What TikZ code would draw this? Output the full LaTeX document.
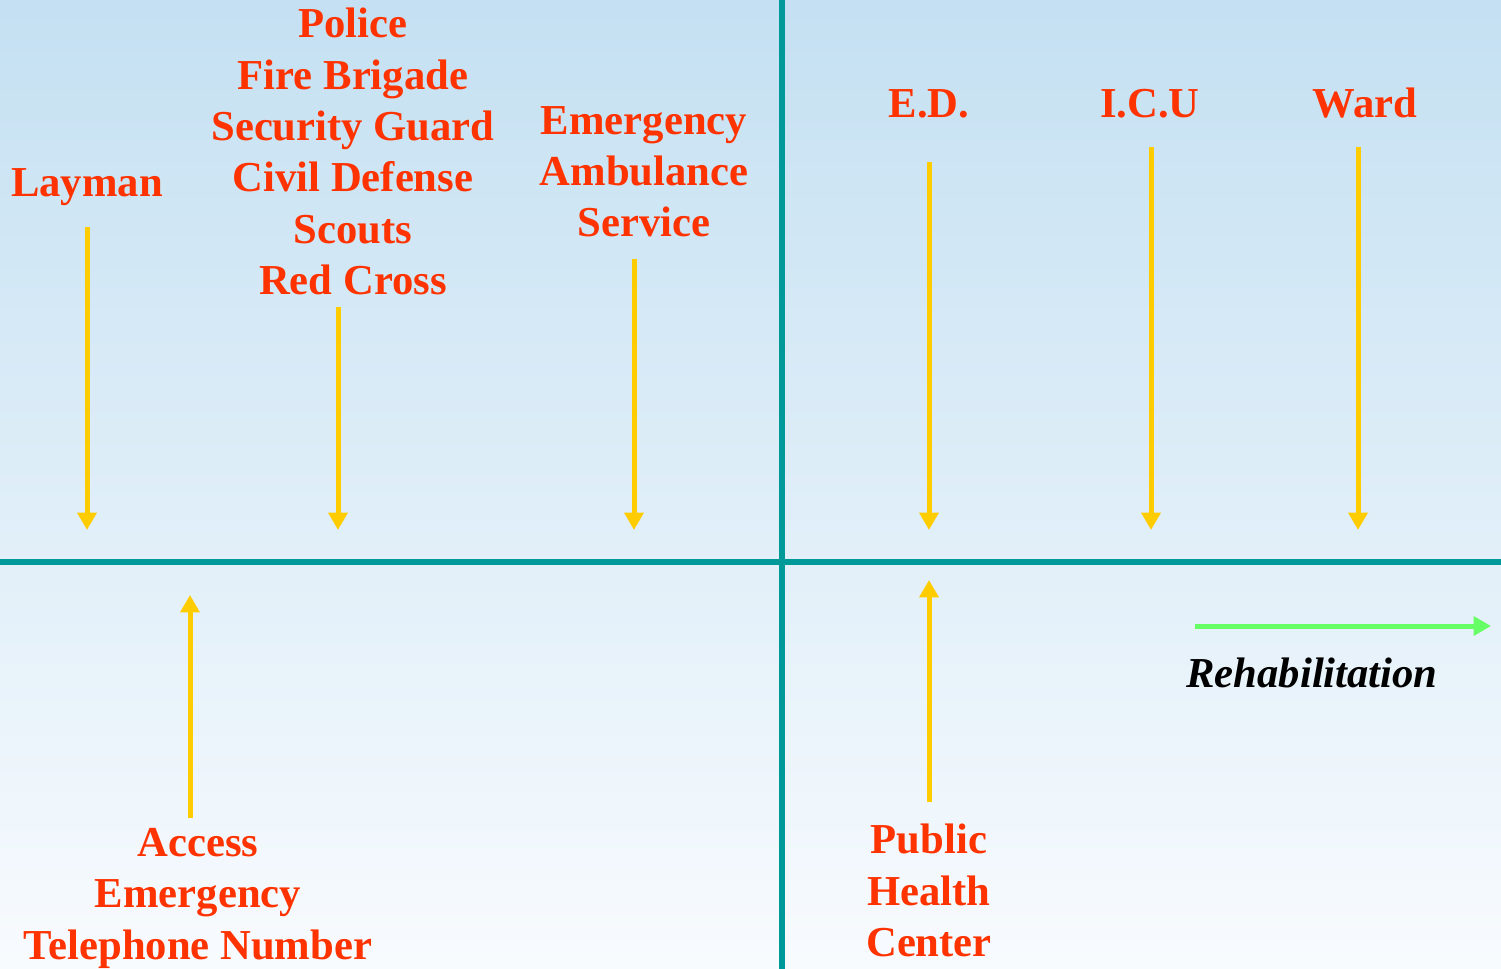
\documentclass[tikz,border=0pt]{standalone}
\usepackage{fontspec}
\setmainfont{Liberation Serif}
\usetikzlibrary{arrows.meta}
\definecolor{lbl}{HTML}{FF3300}
\definecolor{arr}{HTML}{FFCC00}
\definecolor{axis}{HTML}{009999}
\definecolor{grn}{HTML}{66FF66}
\definecolor{bgtop}{HTML}{C4E0F2}
\definecolor{bgbot}{HTML}{F8FBFE}
\tikzset{
  lab/.style={text=lbl, font=\bfseries\fontsize{32}{38.5}\selectfont, inner sep=0pt, align=center},
  yarrow/.style={draw=arr, line width=3.75pt, -{Triangle[width=14pt,length=13pt]}},
  garrow/.style={draw=grn, line width=3.75pt, -{Triangle[width=14pt,length=13pt]}},
  axisline/.style={draw=axis, line width=4.5pt}
}
\begin{document}
\begin{tikzpicture}[x=0.75pt,y=-0.75pt]
\shade[top color=bgtop, bottom color=bgbot] (0,0) rectangle (1501,969);
\useasboundingbox (0,0) rectangle (1501,969);
% axes
\coordinate (hl) at (0,562);
\coordinate (hr) at (1501,562);
\coordinate (vt) at (782,0);
\coordinate (vb) at (782,969);
\draw[axisline] (hl) -- (hr);
\draw[axisline] (vt) -- (vb);
% labels
\node[lab, anchor=base] (layman) at (87,197) {Layman};
\node[lab, anchor=north] (police) at (353,8) {Police\\Fire Brigade\\Security Guard\\Civil Defense\\Scouts\\Red Cross};
\node[lab, anchor=north] (ems) at (644,106) {Emergency\\Ambulance\\Service};
\node[lab, anchor=base] (ed) at (929,118) {E.D.};
\node[lab, anchor=base] (icu) at (1150,118) {I.C.U};
\node[lab, anchor=base] (ward) at (1365,118) {Ward};
\node[lab, anchor=north] (access) at (198,828) {Access\\Emergency\\Telephone Number};
\node[lab, anchor=north] (phc) at (929,824) {Public\\Health\\Center};
\node[text=black, font=\bfseries\itshape\fontsize{32}{38.5}\selectfont, inner sep=0pt, anchor=base] (rehab) at (1312,687) {Rehabilitation};
% arrow end points
\coordinate (a1s) at (87,227);   \coordinate (a1e) at (87,530);
\coordinate (a2s) at (338,307);  \coordinate (a2e) at (338,530);
\coordinate (a3s) at (634,259);  \coordinate (a3e) at (634,530);
\coordinate (a4s) at (929,162);  \coordinate (a4e) at (929,530);
\coordinate (a5s) at (1151,147); \coordinate (a5e) at (1151,530);
\coordinate (a6s) at (1358,147); \coordinate (a6e) at (1358,530);
\coordinate (a7s) at (190,818);  \coordinate (a7e) at (190,595);
\coordinate (a8s) at (929,802);  \coordinate (a8e) at (929,580);
\coordinate (gs) at (1195,626);  \coordinate (ge) at (1491,626);
\draw[yarrow] (a1s) -- (a1e);
\draw[yarrow] (a2s) -- (a2e);
\draw[yarrow] (a3s) -- (a3e);
\draw[yarrow] (a4s) -- (a4e);
\draw[yarrow] (a5s) -- (a5e);
\draw[yarrow] (a6s) -- (a6e);
\draw[yarrow] (a7s) -- (a7e);
\draw[yarrow] (a8s) -- (a8e);
\draw[garrow] (gs) -- (ge);
\end{tikzpicture}
\end{document}
